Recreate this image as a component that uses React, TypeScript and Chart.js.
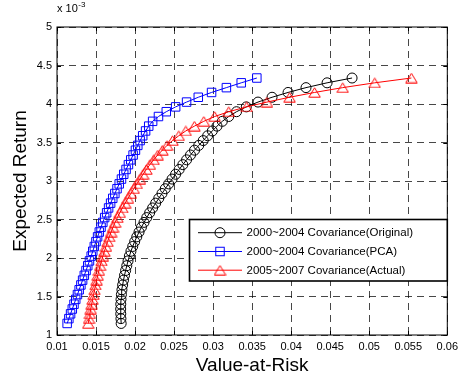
import React, { useEffect, useRef } from 'react';
import { Chart, registerables } from 'chart.js';

Chart.register(...registerables);

// Target expected return (units of 1e-3), shared by all three frontiers
const expectedReturn = [
  1.15, 1.2125, 1.275, 1.3375, 1.4, 1.4625, 1.525, 1.5875, 1.65, 1.7125,
  1.775, 1.8375, 1.9, 1.9625, 2.025, 2.0875, 2.15, 2.2125, 2.275, 2.3375,
  2.4, 2.4625, 2.525, 2.5875, 2.65, 2.7125, 2.775, 2.8375, 2.9, 2.9625,
  3.025, 3.0875, 3.15, 3.2125, 3.275, 3.3375, 3.4, 3.4625, 3.525, 3.5875,
  3.65, 3.7125, 3.775, 3.8375, 3.9, 3.9625, 4.025, 4.0875, 4.15, 4.2125,
  4.275, 4.3375,
];

// Value-at-Risk, 2000~2004 covariance (original)
const varOriginal = [
  0.01822, 0.01819, 0.01817, 0.01816, 0.01817, 0.0182, 0.01825, 0.01832, 0.01841, 0.01852,
  0.01865, 0.01879, 0.01894, 0.0191, 0.01927, 0.01947, 0.0197, 0.01995, 0.02022, 0.02051,
  0.02082, 0.02115, 0.0215, 0.02187, 0.02225, 0.02264, 0.02304, 0.02345, 0.02387, 0.0243,
  0.02474, 0.02519, 0.02565, 0.02612, 0.0266, 0.0271, 0.02762, 0.02816, 0.02873, 0.0293,
  0.0299, 0.0305, 0.03118, 0.032, 0.033, 0.03425, 0.03575, 0.03755, 0.0396, 0.0419,
  0.0446, 0.0478,
];

// Value-at-Risk, 2000~2004 covariance (PCA)
const varPca = [
  0.0113, 0.01152, 0.01174, 0.01196, 0.01218, 0.0124, 0.01262, 0.01284, 0.01306, 0.01328,
  0.0135, 0.01372, 0.01394, 0.01416, 0.01438, 0.01458, 0.01478, 0.01499, 0.0152, 0.01542,
  0.01564, 0.01587, 0.01611, 0.01636, 0.01661, 0.01687, 0.01714, 0.01741, 0.01769, 0.01797,
  0.01826, 0.01855, 0.01885, 0.01915, 0.01945, 0.01975, 0.02005, 0.02035, 0.02065, 0.02098,
  0.02135, 0.02175, 0.02225, 0.023, 0.024, 0.0252, 0.0266, 0.0281, 0.0298, 0.0317,
  0.0336, 0.0356,
];

// Value-at-Risk, 2005~2007 covariance (actual)
const varActual = [
  0.014, 0.0141, 0.01421, 0.01432, 0.01444, 0.01456, 0.01468, 0.01481, 0.01494, 0.01508,
  0.01522, 0.01537, 0.01553, 0.0157, 0.01588, 0.01607, 0.01627, 0.01648, 0.0167, 0.01693,
  0.01718, 0.01745, 0.01774, 0.01805, 0.01838, 0.01873, 0.01909, 0.01946, 0.01984, 0.02023,
  0.02063, 0.02103, 0.02145, 0.0219, 0.02238, 0.0229, 0.0235, 0.0241, 0.0248, 0.0256,
  0.0265, 0.0276, 0.0288, 0.0302, 0.032, 0.0343, 0.0369, 0.0398, 0.043, 0.0466,
  0.0507, 0.0554,
];

const seriesLabels = [
  '2000~2004 Covariance(Original)',
  '2000~2004 Covariance(PCA)',
  '2005~2007 Covariance(Actual)',
];

const xTickLabels = ['0.01', '0.015', '0.02', '0.025', '0.03', '0.035', '0.04', '0.045', '0.05', '0.055', '0.06'];
const yTickLabels = ['1', '1.5', '2', '2.5', '3', '3.5', '4', '4.5', '5'];

const FONT = 'Arial, "Liberation Sans", Helvetica, sans-serif';

function makeTriangle(color: string): HTMLCanvasElement {
  const c = document.createElement('canvas');
  c.width = 13;
  c.height = 11;
  const g = c.getContext('2d')!;
  g.strokeStyle = color;
  g.lineWidth = 1;
  g.beginPath();
  g.moveTo(6.5, 0.8);
  g.lineTo(12.2, 10.2);
  g.lineTo(0.8, 10.2);
  g.closePath();
  g.stroke();
  return c;
}

export default function App() {
  const canvasRef = useRef<HTMLCanvasElement | null>(null);

  useEffect(() => {
    const canvas = canvasRef.current;
    if (!canvas) return;
    const tri = makeTriangle('#ff0000');

    const toPoints = (xs: number[]) => expectedReturn.map((y, i) => ({ x: xs[i], y }));

    const markers = [
      { color: '#000000', style: 'circle' as any, radius: 5 },
      { color: '#0000ff', style: 'rect' as any, radius: 6 },
      { color: '#ff0000', style: tri as any, radius: 6 },
    ];

    const framePlugin = {
      id: 'frame',
      afterDraw(chart: any) {
        const { ctx, chartArea: a, scales } = chart;
        ctx.save();
        ctx.setLineDash([]);
        ctx.strokeStyle = '#000';
        ctx.lineWidth = 1;
        ctx.strokeRect(a.left, a.top, a.right - a.left, a.bottom - a.top);

        // inward tick marks on all four sides
        const tl = 4;
        ctx.beginPath();
        scales.x.ticks.forEach((_t: any, i: number) => {
          const px = Math.round(scales.x.getPixelForTick(i)) + 0.5;
          ctx.moveTo(px, a.bottom);
          ctx.lineTo(px, a.bottom - tl);
          ctx.moveTo(px, a.top);
          ctx.lineTo(px, a.top + tl);
        });
        scales.y.ticks.forEach((_t: any, i: number) => {
          const py = Math.round(scales.y.getPixelForTick(i)) + 0.5;
          ctx.moveTo(a.left, py);
          ctx.lineTo(a.left + tl, py);
          ctx.moveTo(a.right, py);
          ctx.lineTo(a.right - tl, py);
        });
        ctx.stroke();

        // axis exponent
        ctx.fillStyle = '#000';
        ctx.textBaseline = 'alphabetic';
        ctx.textAlign = 'left';
        ctx.font = `11px ${FONT}`;
        ctx.fillText('x 10', a.left, a.top - 15);
        const w = ctx.measureText('x 10').width;
        ctx.font = `8px ${FONT}`;
        ctx.fillText('-3', a.left + w + 0.5, a.top - 20);

        // legend
        const lx = 189.5;
        const ly = 219.5;
        const lw = a.right - lx;
        const lh = 61.5;
        ctx.fillStyle = '#fff';
        ctx.fillRect(lx, ly, lw, lh);
        ctx.lineWidth = 1.6;
        ctx.strokeStyle = '#000';
        ctx.strokeRect(lx, ly, lw, lh);
        const rows = [232.7, 251.5, 270.2];
        chart.data.datasets.forEach((ds: any, i: number) => {
          const y = rows[i];
          const m = markers[i];
          ctx.strokeStyle = m.color;
          ctx.lineWidth = 1;
          ctx.beginPath();
          ctx.moveTo(198, y);
          ctx.lineTo(242, y);
          ctx.stroke();
          const cx = 220;
          if (m.style === 'circle') {
            ctx.beginPath();
            ctx.arc(cx, y, m.radius, 0, Math.PI * 2);
            ctx.stroke();
          } else if (m.style === 'rect') {
            const s = m.radius * Math.SQRT1_2;
            ctx.strokeRect(cx - s, y - s, 2 * s, 2 * s);
          } else {
            ctx.drawImage(tri, cx - tri.width / 2, y - tri.height / 2);
          }
          ctx.fillStyle = '#000';
          ctx.font = `11.5px ${FONT}`;
          ctx.textBaseline = 'middle';
          ctx.fillText(ds.label, 246.5, y + 0.5);
        });
        ctx.restore();
      },
    };

    const chart = new Chart(canvas, {
      type: 'scatter',
      data: {
        datasets: [varOriginal, varPca, varActual].map((xs, i) => ({
          label: seriesLabels[i],
          data: toPoints(xs),
          showLine: true,
          borderColor: markers[i].color,
          borderWidth: 1,
          backgroundColor: 'rgba(0,0,0,0)',
          pointBackgroundColor: 'rgba(0,0,0,0)',
          pointBorderColor: markers[i].color,
          pointBorderWidth: 1,
          pointStyle: markers[i].style,
          pointRadius: markers[i].radius,
          pointHoverRadius: markers[i].radius,
          tension: 0,
          order: 2 - i,
        })),
      },
      options: {
        responsive: false,
        animation: false,
        events: [],
        layout: { padding: { left: 0, right: 11.5, top: 27, bottom: 0 } },
        plugins: {
          legend: { display: false },
          tooltip: { enabled: false },
        },
        scales: {
          x: {
            type: 'linear',
            min: 0.01,
            max: 0.06,
            afterBuildTicks: (s: any) => {
              s.ticks = xTickLabels.map((t) => ({ value: Number(t) }));
            },
            afterFit: (s: any) => {
              s.height = 44;
            },
            ticks: {
              autoSkip: false,
              maxRotation: 0,
              padding: 5,
              color: '#000',
              font: { family: FONT, size: 11 },
              callback: (_v: any, i: number) => xTickLabels[i],
            },
            grid: { color: 'rgba(0,0,0,0.72)', lineWidth: 1, drawTicks: false },
            border: { display: false, dash: [7, 5] },
            title: {
              display: true,
              text: 'Value-at-Risk',
              color: '#000',
              font: { family: FONT, size: 19 },
              padding: { top: 0, bottom: 2 },
            },
          },
          y: {
            type: 'linear',
            min: 1,
            max: 5,
            afterBuildTicks: (s: any) => {
              s.ticks = yTickLabels.map((t) => ({ value: Number(t) }));
            },
            afterFit: (s: any) => {
              s.width = 57;
            },
            ticks: {
              autoSkip: false,
              padding: 5,
              color: '#000',
              font: { family: FONT, size: 11 },
              callback: (_v: any, i: number) => yTickLabels[i],
            },
            grid: { color: 'rgba(0,0,0,0.72)', lineWidth: 1, drawTicks: false },
            border: { display: false, dash: [7, 5] },
            title: {
              display: true,
              text: 'Expected Return',
              color: '#000',
              font: { family: FONT, size: 19 },
              padding: { top: 9, bottom: 0 },
            },
          },
        },
      },
      plugins: [framePlugin],
    });

    return () => chart.destroy();
  }, []);

  return (
    <div style={{ position: 'absolute', left: 0, top: 0, width: 463, height: 379, background: '#fff' }}>
      <canvas ref={canvasRef} width={463} height={379} />
    </div>
  );
}
